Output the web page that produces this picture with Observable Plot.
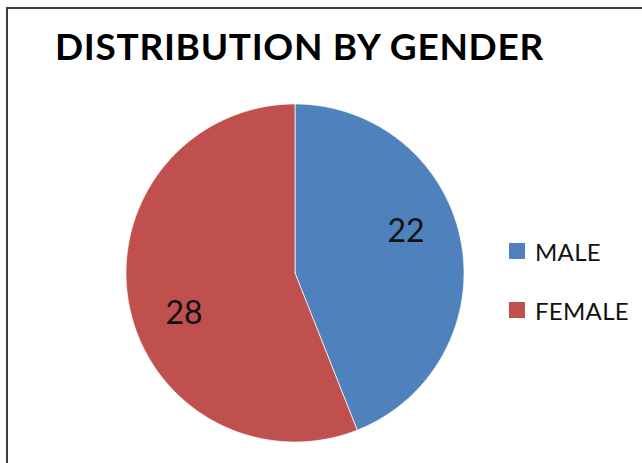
<!DOCTYPE html>
<html>
<head>
<meta charset="utf-8">
<script src="https://cdn.jsdelivr.net/npm/d3@7"></script>
<script src="https://cdn.jsdelivr.net/npm/@observablehq/plot@0.6"></script>
<style>
  html, body { margin: 0; padding: 0; background: #fff; }
  #wrap { position: relative; width: 642px; height: 463px; overflow: hidden; background: #fff; }
  #frame { position: absolute; left: 6px; top: 7px; width: 700px; height: 520px;
           border-left: 2px solid #3c3c3c; border-top: 2px solid #3c3c3c; box-sizing: border-box; }
  #title { position: absolute; left: 55px; top: 27px; margin: 0; font-family: Lato, sans-serif;
           font-weight: 700; font-size: 37px; line-height: 1; color: #000; white-space: nowrap;
           letter-spacing: 0.7px; }
  #chart { position: absolute; left: 0; top: 0; }
  #legend { position: absolute; left: 509px; top: 240px; font-family: Lato, sans-serif; font-size: 24px; color: #111; }
  .item { position: relative; height: 59px; }
  .sw { position: absolute; left: 0; top: 3px; width: 16px; height: 16px; }
  .lab { position: absolute; left: 26px; top: 0; line-height: 1; white-space: nowrap; letter-spacing: 0.3px; }
</style>
</head>
<body>
<div id="wrap">
  <div id="frame"></div>
  <div id="chart"></div>
  <div id="title">DISTRIBUTION BY GENDER</div>
  <div id="legend"></div>
</div>
<script>
const titleText = "DISTRIBUTION BY GENDER";
const genders = ["MALE", "FEMALE"];
const counts = [22, 28];
const colors = ["#4F81BD", "#C0504D"];

const rows = genders.map((g, i) => ({gender: g, count: counts[i]}));
const arcs = d3.pie().sort(null).value(d => d.count)(rows);

// polygon outline for each slice (angle 0 = 12 o'clock, clockwise)
const pts = [];
for (const a of arcs) {
  const g = a.data.gender;
  pts.push({g, x: 0, y: 0});
  const n = Math.ceil((a.endAngle - a.startAngle) / (Math.PI / 360));
  for (let k = 0; k <= n; k++) {
    const t = a.startAngle + (a.endAngle - a.startAngle) * k / n;
    pts.push({g, x: Math.sin(t), y: Math.cos(t)});
  }
  pts.push({g, x: 0, y: 0});
}

const labelRadius = 0.70, labelTurn = -0.164;
const labels = arcs.map(a => {
  const m = (a.startAngle + a.endAngle) / 2 + labelTurn;
  return {x: labelRadius * Math.sin(m), y: labelRadius * Math.cos(m), text: String(a.data.count)};
});

const cx = 294.5, cy = 272.5, r = 169;
const plot = Plot.plot({
  width: 642, height: 463, margin: 0,
  x: {domain: [-1, 1], range: [cx - r, cx + r], axis: null},
  y: {domain: [-1, 1], range: [cy + r, cy - r], axis: null},
  color: {domain: genders, range: colors},
  style: {background: "transparent", fontFamily: "Lato, sans-serif", overflow: "visible"},
  marks: [
    Plot.line(pts, {x: "x", y: "y", z: "g", fill: "g", stroke: "#ffffff", strokeWidth: 1, strokeOpacity: 0.7, curve: "linear"}),
    Plot.text(labels, {x: "x", y: "y", text: "text", fontSize: 32, fill: "#111", textAnchor: "middle"})
  ]
});
document.getElementById("chart").appendChild(plot);

const color = plot.scale("color");
const legend = document.getElementById("legend");
genders.forEach(g => {
  const item = document.createElement("div");
  item.className = "item";
  const sw = document.createElement("span");
  sw.className = "sw";
  sw.style.background = colors[color.domain.indexOf(g)];
  const lab = document.createElement("span");
  lab.className = "lab";
  lab.textContent = g;
  item.appendChild(sw); item.appendChild(lab);
  legend.appendChild(item);
});
document.getElementById("title").textContent = titleText;
</script>
</body>
</html>
